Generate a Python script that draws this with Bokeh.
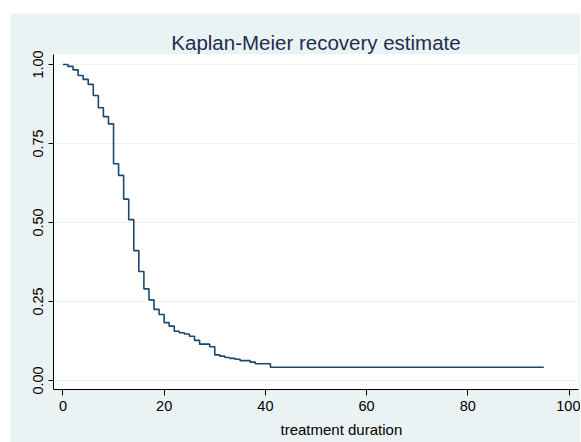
from bokeh.plotting import figure
from bokeh.models import Range1d, FixedTicker, ColumnDataSource, Spacer, Title
from bokeh.layouts import column, row
from bokeh.embed import file_html
from bokeh.resources import INLINE

# Kaplan-Meier step data (time, survival estimate)
times = [0, 1, 2, 3, 4, 5, 6, 7, 8, 9, 10, 11, 12, 13, 14, 15, 16, 17, 18, 19,
         20, 21, 22, 23, 24, 25, 26, 27, 29, 30, 31, 32, 33, 34, 35, 37, 38, 41, 95]
survival = [1.0, 0.994, 0.983, 0.965, 0.953, 0.937, 0.902, 0.863, 0.835, 0.812,
            0.686, 0.649, 0.574, 0.509, 0.411, 0.345, 0.290, 0.255, 0.225, 0.209,
            0.183, 0.172, 0.156, 0.151, 0.147, 0.140, 0.127, 0.115, 0.107, 0.081,
            0.077, 0.073, 0.070, 0.067, 0.063, 0.058, 0.053, 0.042, 0.042]

x_ticks = [0, 20, 40, 60, 80, 100]
y_ticks = [0.0, 0.25, 0.5, 0.75, 1.0]
y_tick_labels = ["0.00", "0.25", "0.50", "0.75", "1.00"]

BG = "#EAF2F3"
LINE = "#1A476F"
FONT = "Liberation Sans"

src = ColumnDataSource(data=dict(t=times, s=survival))

p = figure(width=570, height=429, output_backend="svg", toolbar_location=None,
           x_range=Range1d(-1.86, 101.86), y_range=Range1d(-0.0285, 1.0316),
           min_border_left=43, min_border_right=2, min_border_top=41,
           min_border_bottom=53, title="Kaplan-Meier recovery estimate")

p.background_fill_color = "white"
p.border_fill_color = BG
p.outline_line_color = None

p.title.align = "center"
p.title.offset = 3
p.title.text_font = FONT
p.title.text_font_size = "20.5px"
p.title.text_font_style = "normal"
p.title.text_color = "#1E2D4F"
p.title.standoff = 2

p.step(x="t", y="s", source=src, mode="after", line_color=LINE, line_width=1.6)

p.xaxis.ticker = FixedTicker(ticks=x_ticks)
p.yaxis.ticker = FixedTicker(ticks=y_ticks)
p.yaxis.major_label_overrides = {v: l for v, l in zip(y_ticks, y_tick_labels)}
p.yaxis.major_label_orientation = "vertical"

for ax in (p.xaxis, p.yaxis):
    ax.axis_line_color = "black"
    ax.axis_line_width = 1
    ax.major_tick_line_color = "black"
    ax.major_tick_in = 0
    ax.minor_tick_line_color = None
    ax.major_label_text_font = FONT
    ax.major_label_text_font_size = "14.5px"
    ax.major_label_text_color = "black"
    ax.major_label_standoff = 5

p.xaxis.major_tick_out = 6
p.yaxis.major_tick_out = 5

# x-axis title as a "below" title, shifted right as in the reference
xtitle = Title(text="treatment duration", align="left", offset=227,
               text_font=FONT, text_font_size="15px", text_font_style="normal",
               text_color="black", standoff=10)
p.add_layout(xtitle, "below")

p.xgrid.grid_line_color = None
p.ygrid.grid_line_color = BG
p.ygrid.grid_line_width = 1.2

layout = column(Spacer(height=13), row(Spacer(width=10), p))

open("out.html", "w").write(file_html(layout, INLINE))
